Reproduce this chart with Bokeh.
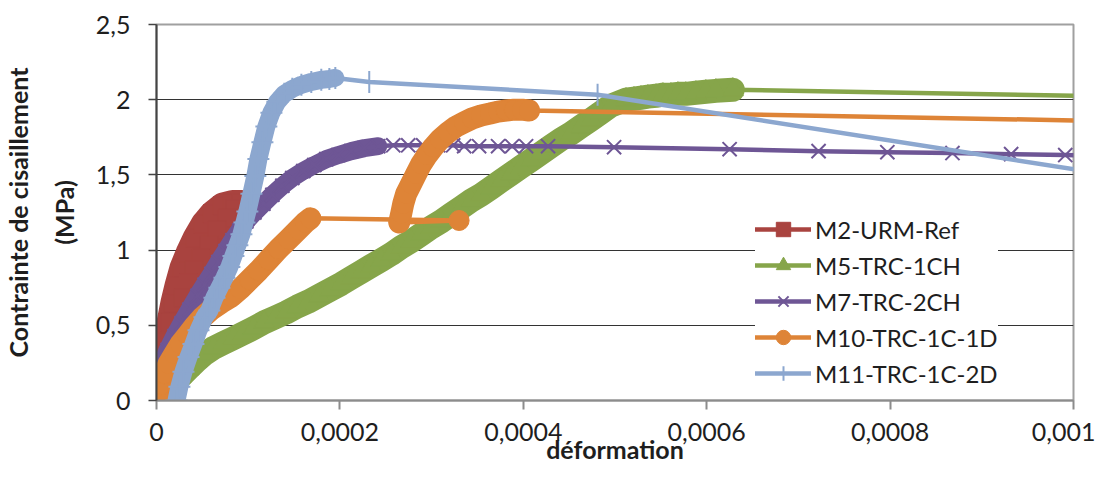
from bokeh.plotting import figure
from bokeh.models import Range1d, FixedTicker, Legend, LegendItem, Title
from bokeh.embed import file_html
from bokeh.resources import INLINE

# ---------------- data ----------------
x_ticks = [0, 0.0002, 0.0004, 0.0006, 0.0008, 0.001]
x_tick_labels = ["0", "0,0002", "0,0004", "0,0006", "0,0008", "0,001"]
y_ticks = [0, 0.5, 1, 1.5, 2, 2.5]
y_tick_labels = ["0", "0,5", "1", "1,5", "2", "2,5"]

series_names = ["M2-URM-Ref", "M5-TRC-1CH", "M7-TRC-2CH", "M10-TRC-1C-1D", "M11-TRC-1C-2D"]

m2_x = [0, 3.3e-6, 6.5e-6, 9.8e-6, 1.42e-5, 1.85e-5, 2.29e-5, 2.83e-5, 3.49e-5, 4.25e-5,
        5.12e-5, 6.1e-5, 7.19e-5, 8.28e-5, 9.26e-5, 8.6e-5, 7.73e-5, 6.64e-5, 5.77e-5,
        4.9e-5, 4.14e-5, 3.49e-5, 2.94e-5]
m2_y = [0, 0.125, 0.257, 0.388, 0.52, 0.651, 0.763, 0.882, 0.98, 1.079,
        1.171, 1.243, 1.296, 1.313, 1.313, 1.276, 1.211, 1.132, 1.033,
        0.947, 0.868, 0.783, 0.684]

m5_x = [0, 8.7e-6, 1.74e-5, 2.61e-5, 3.49e-5, 4.36e-5, 5.23e-5, 6.21e-5, 7.3e-5, 8.39e-5,
        9.48e-5, 1.057e-4, 1.176e-4, 1.296e-4, 1.416e-4, 1.536e-4, 1.656e-4, 1.776e-4,
        1.895e-4, 2.015e-4, 2.124e-4, 2.233e-4, 2.342e-4, 2.451e-4, 2.56e-4, 2.669e-4,
        2.778e-4, 2.887e-4, 2.996e-4, 3.105e-4, 3.213e-4, 3.322e-4, 3.431e-4, 3.54e-4,
        3.649e-4, 3.758e-4, 3.867e-4, 3.976e-4, 4.085e-4, 4.194e-4, 4.303e-4, 4.412e-4,
        4.521e-4, 4.63e-4, 4.739e-4, 4.847e-4, 4.956e-4, 5.12e-4, 5.207e-4, 5.283e-4,
        5.359e-4, 5.447e-4, 5.523e-4, 5.61e-4, 5.686e-4, 5.773e-4, 5.882e-4, 5.991e-4,
        6.1e-4, 6.285e-4, 1.04e-3]
m5_y = [0, 0.053, 0.105, 0.158, 0.211, 0.263, 0.309, 0.349, 0.382, 0.414,
        0.447, 0.48, 0.52, 0.553, 0.586, 0.625, 0.658, 0.697,
        0.737, 0.776, 0.816, 0.855, 0.895, 0.934, 0.974, 1.02,
        1.059, 1.105, 1.151, 1.191, 1.237, 1.283, 1.329, 1.368,
        1.414, 1.461, 1.507, 1.553, 1.599, 1.645, 1.691, 1.737,
        1.776, 1.822, 1.868, 1.914, 1.961, 2.0, 2.007, 2.013,
        2.02, 2.026, 2.033, 2.033, 2.039, 2.039, 2.046, 2.053,
        2.059, 2.066, 2.022]

m7_x = [0, 0, 5.4e-6, 1.2e-5, 1.96e-5, 2.72e-5, 3.59e-5, 4.47e-5, 5.23e-5, 5.99e-5,
        6.75e-5, 7.52e-5, 8.28e-5, 9.04e-5, 9.8e-5, 1.068e-4, 1.166e-4, 1.264e-4,
        1.373e-4, 1.481e-4, 1.601e-4, 1.721e-4, 1.852e-4, 1.983e-4, 2.124e-4, 2.266e-4,
        2.418e-4, 2.582e-4, 2.745e-4, 2.908e-4, 3.072e-4, 3.235e-4, 3.355e-4, 3.518e-4,
        3.725e-4, 3.878e-4, 4.03e-4, 4.27e-4, 4.99e-4, 6.25e-4, 7.22e-4, 7.97e-4,
        8.68e-4, 9.32e-4, 9.91e-4, 1.04e-3]
m7_y = [0, 0.138, 0.237, 0.336, 0.428, 0.513, 0.605, 0.697, 0.77, 0.842,
        0.921, 0.993, 1.066, 1.132, 1.191, 1.25, 1.309, 1.368,
        1.428, 1.48, 1.526, 1.566, 1.605, 1.632, 1.658, 1.678,
        1.691, 1.697, 1.697, 1.697, 1.697, 1.697, 1.691, 1.691,
        1.691, 1.691, 1.691, 1.691, 1.684, 1.671, 1.658, 1.651,
        1.645, 1.638, 1.632, 1.628]

m10_x = [0, 2.2e-6, 5.4e-6, 8.7e-6, 1.31e-5, 1.96e-5, 2.61e-5, 3.38e-5, 4.14e-5, 5.01e-5,
         5.99e-5, 7.08e-5, 8.17e-5, 9.15e-5, 1.013e-4, 1.111e-4, 1.22e-4, 1.329e-4,
         1.438e-4, 1.547e-4, 1.623e-4, 1.678e-4, 3.30e-4, 2.647e-4, 2.669e-4, 2.691e-4,
         2.723e-4, 2.778e-4, 2.832e-4, 2.887e-4, 2.952e-4, 3.017e-4, 3.094e-4, 3.181e-4,
         3.268e-4, 3.355e-4, 3.442e-4, 3.54e-4, 3.638e-4, 3.725e-4, 3.813e-4, 3.90e-4,
         3.987e-4, 4.063e-4, 1.04e-3]
m10_y = [0, 0.039, 0.105, 0.178, 0.243, 0.309, 0.375, 0.434, 0.493, 0.553,
         0.605, 0.651, 0.691, 0.743, 0.803, 0.862, 0.934, 1.007,
         1.072, 1.138, 1.184, 1.211, 1.197, 1.184, 1.243, 1.309,
         1.375, 1.441, 1.507, 1.572, 1.632, 1.684, 1.737, 1.783,
         1.822, 1.849, 1.875, 1.895, 1.908, 1.921, 1.928, 1.934,
         1.934, 1.928, 1.858]

m11_x = [2.18e-5, 2.50e-5, 2.94e-5, 3.49e-5, 4.03e-5, 4.58e-5, 5.23e-5, 5.77e-5, 6.32e-5,
         6.86e-5, 7.41e-5, 7.95e-5, 8.39e-5, 8.82e-5, 9.26e-5, 9.59e-5, 9.91e-5, 1.035e-4,
         1.078e-4, 1.111e-4, 1.155e-4, 1.198e-4, 1.253e-4, 1.318e-4, 1.394e-4, 1.481e-4,
         1.580e-4, 1.688e-4, 1.797e-4, 1.885e-4, 1.950e-4, 2.32e-4, 4.81e-4, 1.04e-3]
m11_y = [0, 0.092, 0.191, 0.289, 0.375, 0.467, 0.553, 0.599, 0.684,
         0.750, 0.816, 0.888, 0.961, 1.033, 1.105, 1.184, 1.257, 1.375,
         1.493, 1.605, 1.717, 1.822, 1.914, 1.987, 2.039, 2.072,
         2.099, 2.118, 2.132, 2.138, 2.145, 2.118, 2.033, 1.50]

x_title = "déformation"
y_title_1 = "Contrainte de cisaillement"
y_title_2 = "(MPa)"

# ---------------- styling ----------------
FONT = "Lato"
TXT = "#1e1e1e"

p = figure(width=1095, height=466, output_backend="svg", toolbar_location=None,
           x_range=Range1d(0, 0.001), y_range=Range1d(0, 2.5),
           min_border_left=155, min_border_right=22, min_border_top=24, min_border_bottom=62)
p.background_fill_color = "white"
p.border_fill_color = "white"
p.outline_line_color = "#a0a0a0"
p.outline_line_width = 2

p.xgrid.visible = False
p.ygrid.ticker = FixedTicker(ticks=[0.5, 1, 1.5, 2])
p.ygrid.grid_line_color = "#333333"
p.ygrid.grid_line_width = 1

p.xaxis.ticker = FixedTicker(ticks=x_ticks)
p.xaxis.major_label_overrides = dict(zip(x_ticks, x_tick_labels))
p.yaxis.ticker = FixedTicker(ticks=y_ticks)
p.yaxis.major_label_overrides = dict(zip(y_ticks, y_tick_labels))

for ax in (p.xaxis, p.yaxis):
    ax.major_label_text_font = FONT
    ax.major_label_text_font_size = "25px"
    ax.major_label_text_color = TXT
    ax.minor_tick_line_color = None
    ax.major_tick_in = 0

p.xaxis.axis_line_color = "#8c8c8c"
p.xaxis.axis_line_width = 2
p.xaxis.major_tick_line_color = "#8c8c8c"
p.xaxis.major_tick_line_width = 2
p.xaxis.major_tick_out = 9
p.xaxis.major_label_standoff = 13
p.xaxis.axis_label = x_title
p.xaxis.axis_label_text_font = FONT
p.xaxis.axis_label_text_font_size = "25px"
p.xaxis.axis_label_text_font_style = "bold"
p.xaxis.axis_label_text_color = TXT
p.xaxis.axis_label_standoff = -10

p.yaxis.axis_line_color = "#444444"
p.yaxis.axis_line_width = 2
p.yaxis.major_tick_line_color = "#444444"
p.yaxis.major_tick_line_width = 1.5
p.yaxis.major_tick_out = 8
p.yaxis.major_label_standoff = 18

p.add_layout(Title(text=y_title_2, align="center", text_font=FONT, text_font_size="25px",
                   text_font_style="bold", text_color=TXT, standoff=28), "left")
p.add_layout(Title(text=y_title_1, align="center", text_font=FONT,
                   text_font_size="25px", text_font_style="bold", text_color=TXT, standoff=0), "left")


def draw(xs, ys, color, marker, size, bands, band_width, fill=True, mlw=1.0):
    for a, b in bands:
        p.line(xs[a:b], ys[a:b], line_color=color, line_width=band_width,
               line_join="round", line_cap="round")
    lr = p.line(xs, ys, line_color=color, line_width=4.5, line_join="round", line_cap="round")
    sr = p.scatter(xs, ys, marker=marker, size=size,
                   fill_color=color if fill else None, line_color=color, line_width=mlw)
    return [lr, sr]


r2 = draw(m2_x, m2_y, "#A9433F", "square", 18, [(0, len(m2_x))], 26)
r5 = draw(m5_x, m5_y, "#86A54A", "triangle", 21, [(0, 60)], 24)
r7 = draw(m7_x, m7_y, "#6E5695", "x", 20, [(0, 27)], 18, fill=False, mlw=2)
r10 = draw(m10_x, m10_y, "#DE8437", "circle", 20, [(0, 22), (23, 44)], 22)
r11 = draw(m11_x, m11_y, "#8CA7CF", "cross", 22, [(0, 31)], 18, fill=False, mlw=2)

legend = Legend(items=[LegendItem(label=n, renderers=r)
                       for n, r in zip(series_names, [r2, r5, r7, r10, r11])],
                location=(599, 9), glyph_width=56, glyph_height=36, label_height=36,
                spacing=0, padding=8, margin=0, label_standoff=4,
                label_text_font=FONT, label_text_font_size="24px", label_text_color=TXT,
                border_line_color=None, background_fill_color="white", background_fill_alpha=1)
p.add_layout(legend)

open("out.html", "w").write(file_html(p, INLINE))
